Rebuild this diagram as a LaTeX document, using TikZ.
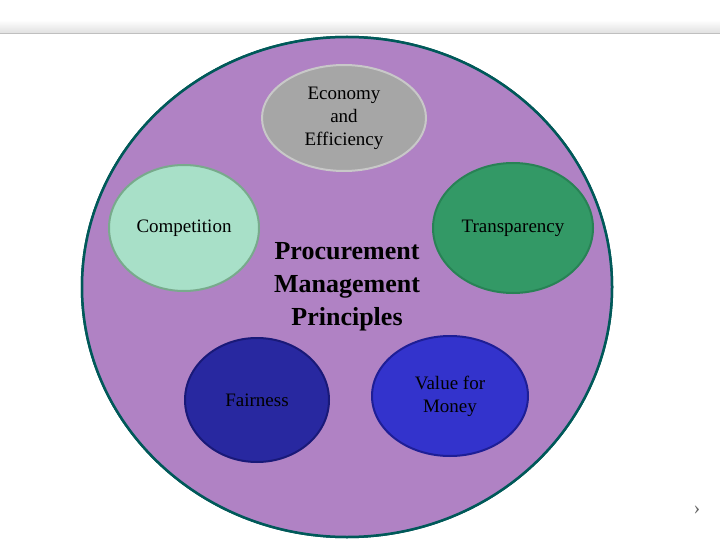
\documentclass[tikz,border=0pt]{standalone}
\usepackage{fontspec}
\setmainfont{Liberation Serif}
\begin{document}
\begin{tikzpicture}[x=1pt,y=-1pt,
  pr/.style={draw,line width=2pt,align=center,font=\fontsize{19}{23}\selectfont}]
\useasboundingbox (0,0) rectangle (720,540);
\fill[white] (0,0) rectangle (720,540);
\shade[top color=white,bottom color=black!12] (0,20) rectangle (720,33);
\draw[black!25] (0,33) -- (720,33);
\draw[line width=2.5pt,draw=teal!70!black,fill=violet!45!magenta!40!white,fill=violet!40!pink!80!gray] (347,287) ellipse[x radius=265,y radius=250];
\filldraw[line width=2.5pt,draw=teal!70!black,fill={rgb,255:red,176;green,130;blue,196}] (347,287) ellipse[x radius=265,y radius=250];
\node[font=\bfseries\fontsize{26}{33}\selectfont,align=center] (main) at (347,287) {Procurement\\Management\\Principles};
\filldraw[pr,draw={rgb,255:red,200;green,200;blue,200},fill={rgb,255:red,166;green,166;blue,166}] (344,118) ellipse[x radius=82,y radius=53];
\node[pr,draw=none] (eco) at (344,118) {Economy\\and\\Efficiency};
\filldraw[pr,draw={rgb,255:red,120;green,170;blue,140},fill={rgb,255:red,168;green,224;blue,200}] (184,228) ellipse[x radius=75,y radius=63];
\node[pr,draw=none] (comp) at (184,228) {Competition};
\filldraw[pr,draw={rgb,255:red,40;green,130;blue,85},fill={rgb,255:red,51;green,153;blue,102}] (513,228) ellipse[x radius=80,y radius=65];
\node[pr,draw=none] (tr) at (513,228) {Transparency};
\filldraw[pr,draw={rgb,255:red,25;green,25;blue,120},fill={rgb,255:red,40;green,40;blue,160}] (257,400) ellipse[x radius=72,y radius=62];
\node[pr,draw=none] (fair) at (257,400) {Fairness};
\filldraw[pr,draw={rgb,255:red,30;green,30;blue,150},fill={rgb,255:red,51;green,51;blue,204}] (450,396) ellipse[x radius=78,y radius=60];
\node[pr,draw=none] (vfm) at (450,396) {Value for\\Money};
\node[text=black!60,font=\fontsize{20}{20}\selectfont] (arr) at (697,510) {›};
\end{tikzpicture}
\end{document}
